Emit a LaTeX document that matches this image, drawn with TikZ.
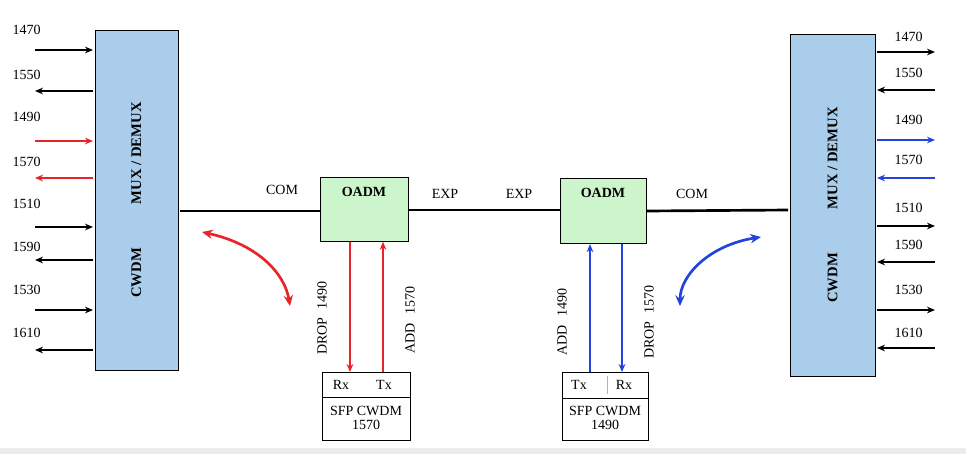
\documentclass[tikz,border=0pt]{standalone}
\usepackage{fontspec}
\setmainfont{Liberation Serif}
\usetikzlibrary{arrows.meta}
\definecolor{boxblue}{HTML}{A9CDEB}
\definecolor{boxgreen}{HTML}{CCF5CC}
\definecolor{myred}{HTML}{E8232A}
\definecolor{myblue}{HTML}{2244DD}
\begin{document}
\begin{tikzpicture}[x=0.75pt,y=-0.75pt,
  lbl/.style={font=\fontsize{10.5}{12}\selectfont},
  arr/.style={-{Stealth[length=6pt,width=5pt]},line width=1pt},
  mux/.style={draw,fill=boxblue,line width=0.6pt},
  oadm/.style={draw,fill=boxgreen,line width=0.6pt},
  fib/.style={line width=2pt}]
\useasboundingbox (0,0) rectangle (966,454);
\fill[fill=white] (0,0) rectangle (966,454);
\fill[fill=gray!15] (0,448) rectangle (966,454);
% MUX boxes
\draw[mux] (95,30) rectangle (178,370);
\node (m1) at (136.5,200) {};
\node[rotate=90,font=\bfseries\fontsize{11}{12}\selectfont] at (136.5,200) {CWDM\hspace{3em}MUX / DEMUX};
\draw[mux] (790,34) rectangle (875,376);
\node (m2) at (832.5,205) {};
\node[rotate=90,font=\bfseries\fontsize{11}{12}\selectfont] at (832.5,205) {CWDM\hspace{3em}MUX / DEMUX};
% left arrows
\foreach \l/\ly/\ay/\xa/\xb/\c in {1470/30/50/35/93/black,1550/75/91/93/35/black,1490/117/141/35/93/myred,1570/162/178/93/35/myred,1510/204/227/35/93/black,1590/247/260/93/35/black,1530/290/310/35/93/black,1610/333/350/93/35/black}{
  \node[lbl,anchor=west] at (8,\ly) {\l};
  \coordinate (la) at (\xa,\ay); \coordinate (lb) at (\xb,\ay);
  \draw[arr,\c] (la) -- (lb);
}
% right arrows
\foreach \l/\ly/\ay/\xa/\xb/\c in {1470/37/52/877/935/black,1550/73/90/935/877/black,1490/120/140/877/935/myblue,1570/160/178/935/877/myblue,1510/208/226/877/935/black,1590/245/262/935/877/black,1530/290/310/877/935/black,1610/333/348/935/877/black}{
  \node[lbl,anchor=west] at (890,\ly) {\l};
  \coordinate (ra) at (\xa,\ay); \coordinate (rb) at (\xb,\ay);
  \draw[arr,\c] (ra) -- (rb);
}
% OADMs
\node[oadm,minimum width=66pt,minimum height=48pt,anchor=north west] (o1) at (320,177) {};
\node[font=\bfseries\fontsize{10.5}{12}\selectfont] at (364,192) {OADM};
\node[oadm,minimum width=64.5pt,minimum height=49pt,anchor=north west] (o2) at (560,178) {};
\node[font=\bfseries\fontsize{10.5}{12}\selectfont] at (603,193) {OADM};
\coordinate (c1) at (180,211);
\coordinate (c2) at (788,210);
\draw[fib] (c1) -- (o1.west |- 0,211);
\draw[fib] (o1.east |- 0,210) -- (o2.west |- 0,210);
\draw[fib] (o2.east |- 0,211) -- (c2);
\node[lbl] at (282,190) {COM};
\node[lbl] at (445,194) {EXP};
\node[lbl] at (519,194) {EXP};
\node[lbl] at (692,194) {COM};
% SFPs
\node[draw,minimum width=66pt,minimum height=51pt,anchor=north west,line width=0.6pt] (s1) at (322,372) {};
\draw (322,397) -- (410,397);
\node[lbl] at (341,385) {Rx};
\node[lbl] at (384,385) {Tx};
\node[lbl,align=center] at (366,418) {SFP CWDM\\[-2pt]1570};
\node[draw,minimum width=64.5pt,minimum height=51pt,anchor=north west,line width=0.6pt] (s2) at (562,372) {};
\draw (562,398) -- (648,398);
\draw[gray!60] (607,376) -- (607,394);
\node[lbl] at (579,385) {Tx};
\node[lbl] at (624,385) {Rx};
\node[lbl,align=center] at (605,418) {SFP CWDM\\[-2pt]1490};
% add/drop
\draw[arr,myred] (o1.south -| 350,0) -- (s1.north -| 350,0);
\draw[arr,myred] (s1.north -| 383,0) -- (o1.south -| 383,0);
\draw[arr,myblue] (s2.north -| 590,0) -- (o2.south -| 590,0);
\draw[arr,myblue] (o2.south -| 622,0) -- (s2.north -| 622,0);
\node[lbl,rotate=90] at (322,318) {DROP\hspace{0.6em}1490};
\node[lbl,rotate=90] at (410,320) {ADD\hspace{0.6em}1570};
\node[lbl,rotate=90] at (562,322) {ADD\hspace{0.6em}1490};
\node[lbl,rotate=90] at (649,322) {DROP\hspace{0.6em}1570};
% curved arrows
\coordinate (r1) at (202,232); \coordinate (r2) at (290,306);
\draw[{Stealth[length=8pt,width=7pt]}-{Stealth[length=8pt,width=7pt]},myred,line width=2pt] (r1) .. controls (260,245) and (285,275) .. (r2);
\coordinate (b1) at (761,237); \coordinate (b2) at (680,306);
\draw[{Stealth[length=8pt,width=7pt]}-{Stealth[length=8pt,width=7pt]},myblue,line width=2pt] (b1) .. controls (710,245) and (680,275) .. (b2);
\end{tikzpicture}
\end{document}
